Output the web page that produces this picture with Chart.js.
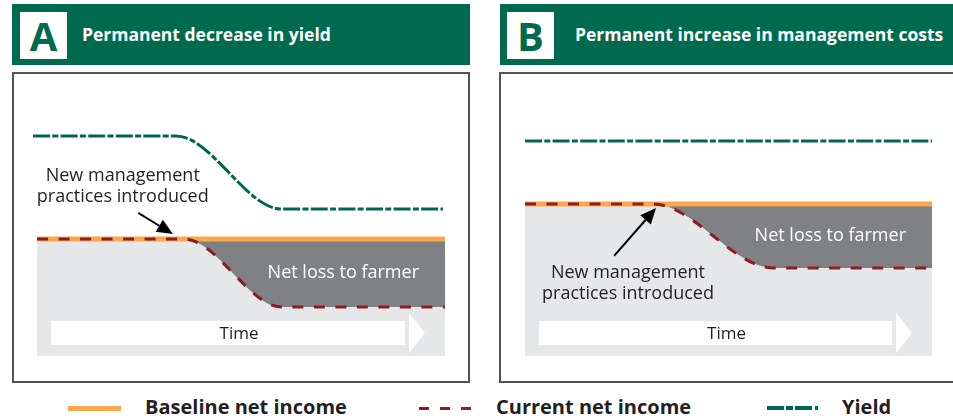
<!DOCTYPE html>
<html>
<head>
<meta charset="utf-8">
<script src="https://cdn.jsdelivr.net/npm/chart.js@4.4.1/dist/chart.umd.min.js"></script>
<style>
  html, body { margin: 0; padding: 0; background: #fff; }
  body { width: 953px; height: 419px; position: relative; overflow: hidden;
         font-family: 'Open Sans', sans-serif; color: #231f20; }
  .header { position: absolute; top: 4px; height: 61px; background: #006a4f; }
  .letter { position: absolute; top: 8px; width: 47px; height: 47px; background: #fff;
            color: #006a4f; font-weight: 700; font-size: 40px; line-height: 47px; text-align: center; }
  .title  { position: absolute; top: 0; line-height: 61px; color: #fff; font-weight: 700;
            font-size: 17.5px; white-space: nowrap; }
  .frame  { position: absolute; top: 72px; height: 311px; box-sizing: border-box; border: 2px solid #525252; }
  .wrap   { position: absolute; top: 74px; height: 307px; }
  .leg-txt { position: absolute; top: 395px; font-weight: 700; font-size: 20px; line-height: 24px; white-space: nowrap; }
  .leg-sw  { position: absolute; }
</style>
</head>
<body>
  <div class="header" style="left:12px;width:458px;">
    <div class="letter" style="left:8px;">A</div>
    <div class="title" style="left:70px;">Permanent decrease in yield</div>
  </div>
  <div class="header" style="left:500px;width:453px;">
    <div class="letter" style="left:7px;">B</div>
    <div class="title" style="left:75px;">Permanent increase in management costs</div>
  </div>

  <div class="frame" style="left:12px;width:458px;"></div>
  <div class="frame" style="left:499px;width:470px;"></div>

  <div class="wrap" style="left:14px;width:454px;"><canvas id="chart-a" width="454" height="307"></canvas></div>
  <div class="wrap" style="left:501px;width:452px;"><canvas id="chart-b" width="452" height="307"></canvas></div>

  <div id="legend"></div>

<script>
// ─── Dados (tempo 0–100, renda/produção em escala relativa 0–100) ─────────────
const incomeTimeA = [0, 36, 60, 100];
const baselineA   = [48.8, 48.8, 48.8, 48.8];
const currentA    = [48.8, 48.8, 20.4, 20.4];
const yieldTimeA  = [-1, 34, 60, 99.5];
const yieldA      = [91.7, 91.7, 61.2, 61.2];

const incomeTimeB = [0, 31.5, 61, 100];
const baselineB   = [63.3, 63.3, 63.3, 63.3];
const currentB    = [63.3, 63.3, 36.7, 36.7];
const yieldTimeB  = [0, 100];
const yieldB      = [89.6, 89.6];

const seriesNames = ['Baseline net income', 'Current net income', 'Yield'];

// ─── Estilos ──────────────────────────────────────────────────────────────────
const ORANGE     = '#f9a84d';
const RED        = '#8e1c20';
const GREEN      = '#00664f';
const LIGHT_GRAY = '#e6e7e8';
const DARK_GRAY  = '#808184';
const TEXT       = '#231f20';
const RED_DASH   = [11, 10.5];
const YIELD_DASH = [17, 2.3, 6, 2.3];

const pts = (xs, ys) => xs.map((x, i) => ({ x, y: ys[i] }));

// ─── Anotações desenhadas sobre o gráfico ─────────────────────────────────────
function drawArrow(ctx, x0, y0, x1, y1) {
  const ang = Math.atan2(y1 - y0, x1 - x0);
  const len = 16, half = 7;
  const bx = x1 - len * Math.cos(ang), by = y1 - len * Math.sin(ang);
  ctx.strokeStyle = '#000';
  ctx.fillStyle = '#000';
  ctx.lineWidth = 2;
  ctx.beginPath(); ctx.moveTo(x0, y0); ctx.lineTo(bx, by); ctx.stroke();
  ctx.beginPath();
  ctx.moveTo(x1, y1);
  ctx.lineTo(bx + half * Math.sin(ang), by - half * Math.cos(ang));
  ctx.lineTo(bx - half * Math.sin(ang), by + half * Math.cos(ang));
  ctx.closePath(); ctx.fill();
}

const notesPlugin = {
  id: 'panelNotes',
  afterDatasetsDraw(chart, _args, opts) {
    const { ctx, chartArea: a, scales: { x, y } } = chart;
    const left = x.getPixelForValue(0);
    ctx.save();

    // seta do tempo
    const cy = a.bottom - 23;
    ctx.fillStyle = '#fff';
    ctx.fillRect(left + 14, cy - 12, (a.right - 40) - (left + 14), 24);
    ctx.beginPath();
    ctx.moveTo(a.right - 36, cy - 20);
    ctx.lineTo(a.right - 20, cy);
    ctx.lineTo(a.right - 36, cy + 20);
    ctx.closePath(); ctx.fill();
    ctx.fillStyle = TEXT;
    ctx.font = '17px "Open Sans"';
    ctx.textAlign = 'center';
    ctx.textBaseline = 'middle';
    ctx.fillText('Time', (left + a.right) / 2 - 2, cy + 1);

    // perda líquida
    const base = opts.baseline[opts.baseline.length - 1];
    const cur  = opts.current[opts.current.length - 1];
    ctx.fillStyle = '#fff';
    ctx.font = '18px "Open Sans"';
    ctx.textAlign = 'right';
    ctx.fillText('Net loss to farmer', a.right - 26, (y.getPixelForValue(base) + y.getPixelForValue(cur)) / 2);

    // nota "New management practices introduced"
    const n = opts.note;
    ctx.fillStyle = TEXT;
    ctx.textAlign = 'center';
    n.lines.forEach((t, i) => ctx.fillText(t, x.getPixelForValue(n.textX), y.getPixelForValue(n.textY) + i * 21));
    drawArrow(ctx, x.getPixelForValue(n.from[0]), y.getPixelForValue(n.from[1]),
                   x.getPixelForValue(n.to[0]),   y.getPixelForValue(n.to[1]));
    ctx.restore();
  },
};

// ─── Cria cada painel ─────────────────────────────────────────────────────────
function criarPainel(id, s, padding, xMin, note) {
  const ctx = document.getElementById(id).getContext('2d');
  return new Chart(ctx, {
    type: 'line',
    data: {
      datasets: [
        {
          label: seriesNames[0],
          data: pts(s.time, s.baseline),
          borderColor: ORANGE, borderWidth: 5,
          backgroundColor: LIGHT_GRAY, fill: 'start',
          order: 3,
        },
        {
          label: seriesNames[1],
          data: pts(s.time, s.current),
          borderColor: RED, borderWidth: 3, borderDash: RED_DASH,
          backgroundColor: DARK_GRAY, fill: '-1',
          order: 2,
        },
        {
          label: seriesNames[2],
          data: pts(s.yieldTime, s.yield),
          borderColor: GREEN, borderWidth: 3, borderDash: YIELD_DASH,
          fill: false,
          order: 1,
        },
      ],
    },
    options: {
      responsive: false,
      animation: false,
      devicePixelRatio: 1,
      layout: { padding },
      elements: {
        point: { radius: 0 },
        line: { cubicInterpolationMode: 'monotone', borderCapStyle: 'butt' },
      },
      scales: {
        x: { type: 'linear', min: xMin, max: 100, display: false },
        y: { min: 0, max: 100, display: false },
      },
      plugins: {
        legend: { display: false },
        tooltip: { enabled: false },
        filler: { drawTime: 'beforeDatasetsDraw' },
        panelNotes: { baseline: s.baseline, current: s.current, note },
      },
    },
    plugins: [notesPlugin],
  });
}

const noteLines = ['New management', 'practices introduced'];

criarPainel('chart-a',
  { time: incomeTimeA, baseline: baselineA, current: currentA, yieldTime: yieldTimeA, yield: yieldA },
  { left: 19, right: 23, top: 42, bottom: 25 }, -1,
  { lines: noteLines, textX: 21, textY: 75, from: [24.8, 59.6], to: [33.3, 50.8] });

criarPainel('chart-b',
  { time: incomeTimeB, baseline: baselineB, current: currentB, yieldTime: yieldTimeB, yield: yieldB },
  { left: 24, right: 21, top: 42, bottom: 25 }, 0,
  { lines: noteLines, textX: 25.3, textY: 34.6, from: [21.9, 41.7], to: [32.2, 61.7] });

// ─── Legenda ──────────────────────────────────────────────────────────────────
const legendItems = [
  { swatch: `left:68px;top:406px;width:53px;height:5px;background:${ORANGE};`, text: 145 },
  { swatch: `left:419px;top:407px;width:52px;height:3px;background:repeating-linear-gradient(to right, ${RED} 0 10px, transparent 10px 21px);`, text: 496 },
  { swatch: `left:767px;top:406px;width:51px;height:4px;background:repeating-linear-gradient(to right, ${GREEN} 0 17px, transparent 17px 19.5px, ${GREEN} 19.5px 25.5px, transparent 25.5px 28px);`, text: 842 },
];
document.getElementById('legend').innerHTML = legendItems.map((it, i) =>
  `<div class="leg-sw" style="${it.swatch}"></div><div class="leg-txt" style="left:${it.text}px;">${seriesNames[i]}</div>`
).join('');
</script>
</body>
</html>
